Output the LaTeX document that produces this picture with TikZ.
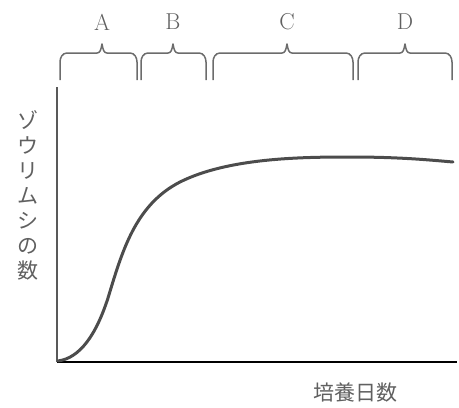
\documentclass[tikz,border=0pt]{standalone}
\usepackage{fontspec}
\newfontfamily\jpfont{Noto Sans CJK JP}
\usetikzlibrary{calc}

\tikzset{
  axe/.style={line width=1.8pt},
  accolade/.style={line width=1.5pt, gray!85!black, line join=round},
  lettre/.style={text=gray!75!black, font=\fontsize{23}{26}\selectfont},
  jp/.style={text=gray!75!black, font=\jpfont\fontsize{21}{25}\selectfont}
}

\begin{document}
\begin{tikzpicture}[x=1pt,y=-1pt]
    \useasboundingbox (0,0) rectangle (459,408);
    % définition des points
    \coordinate (O) at (57,362);
    \coordinate (Y) at (57,87);
    \coordinate (X) at (457,362);
    % tracer
    \draw[axe, gray!70!black] (O) -- (Y);
    \draw[axe, black] (O) -- (X);
    \draw[line width=3pt, gray!60!black, line cap=round]
      (58,361) .. controls (80,358) and (96,335) .. (108,298)
      .. controls (122,252) and (135,205) .. (180,182)
      .. controls (228,158) and (300,157) .. (350,157)
      .. controls (400,157) and (430,160) .. (453,162);
    % les accolades
    \begin{scope}[accolade]
      \draw (60,80) -- (60,62) to[out=90,in=180] (67,53) -- (97,53)
        .. controls (100,53) and (101,50) .. (102,44)
        .. controls (103,50) and (104,53) .. (107,53) -- (130,53)
        to[out=0,in=90] (137,62) -- (137,80);
      \draw (141,80) -- (141,62) to[out=90,in=180] (148,53) -- (168,53)
        .. controls (171,53) and (172,50) .. (173,44)
        .. controls (174,50) and (175,53) .. (178,53) -- (199,53)
        to[out=0,in=90] (206,62) -- (206,80);
      \draw (213,80) -- (213,62) to[out=90,in=180] (220,53) -- (282,53)
        .. controls (285,53) and (286,50) .. (287,44)
        .. controls (288,50) and (289,53) .. (292,53) -- (346,53)
        to[out=0,in=90] (353,62) -- (353,80);
      \draw (358,80) -- (358,62) to[out=90,in=180] (365,53) -- (400,53)
        .. controls (403,53) and (404,50) .. (405,44)
        .. controls (406,50) and (407,53) .. (410,53) -- (445,53)
        to[out=0,in=90] (452,62) -- (452,80);
    \end{scope}
    % les étiquettes
    \node[lettre] (A) at (102,22) {A};
    \node[lettre] (B) at (173,22) {B};
    \node[lettre] (C) at (287,22) {C};
    \node[lettre] (D) at (405,22) {D};
    \node[jp, align=center] (ylab) at (28,195) {ゾ\\ウ\\リ\\ム\\シ\\の\\数};
    \node[jp] (xlab) at (355,393) {培養日数};
  \end{tikzpicture}
\end{document}
